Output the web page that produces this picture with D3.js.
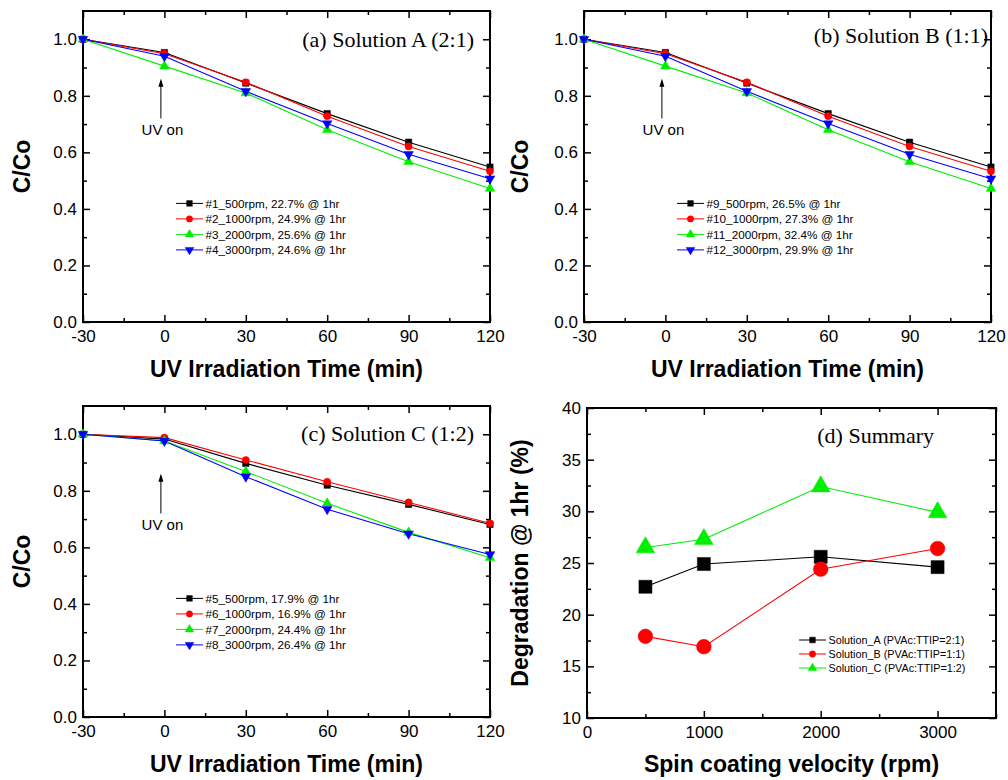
<!DOCTYPE html>
<html>
<head>
<meta charset="utf-8">
<script src="https://cdn.jsdelivr.net/npm/d3@7"></script>
<style>
  body { margin: 0; background: #fff; }
  svg { display: block; }
</style>
</head>
<body>
<svg id="chart" width="1008" height="780"></svg>
<script>
// ---------------- DATA ----------------
const timeMin = [-30, 0, 30, 60, 90, 120];
const xTicksTime = [-30, 0, 30, 60, 90, 120];
const yTicksCC = [0.0, 0.2, 0.4, 0.6, 0.8, 1.0];

const legendA = ["#1_500rpm, 22.7% @ 1hr", "#2_1000rpm, 24.9% @ 1hr", "#3_2000rpm, 25.6% @ 1hr", "#4_3000rpm, 24.6% @ 1hr"];
const valuesA = [
  [1.0, 0.953, 0.845, 0.737, 0.636, 0.548],
  [1.0, 0.949, 0.848, 0.728, 0.621, 0.533],
  [1.0, 0.905, 0.810, 0.680, 0.567, 0.472],
  [1.0, 0.940, 0.816, 0.702, 0.593, 0.507]
];

const legendB = ["#9_500rpm, 26.5% @ 1hr", "#10_1000rpm, 27.3% @ 1hr", "#11_2000rpm, 32.4% @ 1hr", "#12_3000rpm, 29.9% @ 1hr"];
const valuesB = [
  [1.0, 0.953, 0.845, 0.737, 0.636, 0.548],
  [1.0, 0.949, 0.848, 0.728, 0.621, 0.533],
  [1.0, 0.905, 0.810, 0.680, 0.567, 0.472],
  [1.0, 0.940, 0.816, 0.702, 0.593, 0.507]
];

const legendC = ["#5_500rpm, 17.9% @ 1hr", "#6_1000rpm, 16.9% @ 1hr", "#7_2000rpm, 24.4% @ 1hr", "#8_3000rpm, 26.4% @ 1hr"];
const valuesC = [
  [1.0, 0.983, 0.897, 0.820, 0.752, 0.681],
  [1.0, 0.988, 0.909, 0.832, 0.759, 0.685],
  [1.0, 0.976, 0.868, 0.756, 0.653, 0.563],
  [1.0, 0.976, 0.850, 0.735, 0.648, 0.575]
];

const spinRpm = [500, 1000, 2000, 3000];
const xTicksRpm = [0, 1000, 2000, 3000];
const yTicksDeg = [10, 15, 20, 25, 30, 35, 40];
const legendD = ["Solution_A (PVAc:TTIP=2:1)", "Solution_B (PVAc:TTIP=1:1)", "Solution_C (PVAc:TTIP=1:2)"];
const degA = [22.7, 24.9, 25.6, 24.6];
const degB = [17.9, 16.9, 24.4, 26.4];
const degC = [26.5, 27.3, 32.4, 29.9];

// ---------------- STYLE ----------------
const colors = ["#000000", "#ff0000", "#00ee00", "#0000ff"];
const shapes = ["square", "circle", "up", "down"];
const SANS = "'Liberation Sans', Arial, sans-serif";
const SERIF = "'Liberation Serif', 'Times New Roman', serif";

const svg = d3.select("#chart");

function symbolPath(shape, size) {
  if (shape === "square") return d3.symbol(d3.symbolSquare, size)();
  if (shape === "circle") return d3.symbol(d3.symbolCircle, size)();
  return d3.symbol(d3.symbolTriangle, size)();
}
function drawMarker(g, shape, size, color, cx, cy) {
  const rot = shape === "down" ? 180 : 0;
  g.append("path")
    .attr("d", symbolPath(shape, size))
    .attr("transform", `translate(${cx},${cy}) rotate(${rot})`)
    .attr("fill", color)
    .attr("stroke", color)
    .attr("stroke-width", 0.5);
}

const hyphenInt = d => String(Math.round(d));

function frame(cfg) {
  const g = svg.append("g");
  const x = d3.scaleLinear().domain(cfg.xDomain).range([cfg.left, cfg.right]);
  const y = d3.scaleLinear().domain(cfg.yDomain).range([cfg.bottom, cfg.top]);
  const maj = 7, min = 4;

  g.append("g").attr("transform", `translate(0,${cfg.bottom})`)
    .call(d3.axisBottom(x).tickValues(cfg.xMajor).tickSizeInner(-maj).tickSizeOuter(0).tickPadding(8).tickFormat(cfg.xFmt));
  g.append("g").attr("transform", `translate(0,${cfg.bottom})`)
    .call(d3.axisBottom(x).tickValues(cfg.xMinor).tickSizeInner(-min).tickSizeOuter(0).tickFormat(""));
  g.append("g").attr("transform", `translate(0,${cfg.top})`)
    .call(d3.axisTop(x).tickValues(cfg.xMajor).tickSizeInner(-maj).tickSizeOuter(0).tickFormat(""));
  g.append("g").attr("transform", `translate(0,${cfg.top})`)
    .call(d3.axisTop(x).tickValues(cfg.xMinor).tickSizeInner(-min).tickSizeOuter(0).tickFormat(""));
  g.append("g").attr("transform", `translate(${cfg.left},0)`)
    .call(d3.axisLeft(y).tickValues(cfg.yMajor).tickSizeInner(-maj).tickSizeOuter(0).tickPadding(6).tickFormat(cfg.yFmt));
  g.append("g").attr("transform", `translate(${cfg.left},0)`)
    .call(d3.axisLeft(y).tickValues(cfg.yMinor).tickSizeInner(-min).tickSizeOuter(0).tickFormat(""));
  g.append("g").attr("transform", `translate(${cfg.right},0)`)
    .call(d3.axisRight(y).tickValues(cfg.yMajor).tickSizeInner(-maj).tickSizeOuter(0).tickFormat(""));
  g.append("g").attr("transform", `translate(${cfg.right},0)`)
    .call(d3.axisRight(y).tickValues(cfg.yMinor).tickSizeInner(-min).tickSizeOuter(0).tickFormat(""));

  g.selectAll(".domain").remove();
  g.selectAll(".tick line").attr("stroke", "#000").attr("stroke-width", 1.5);
  g.selectAll(".tick text").attr("font-size", 17).attr("fill", "#000")
    .style("font-family", SANS);

  g.append("rect")
    .attr("x", cfg.left).attr("y", cfg.top)
    .attr("width", cfg.right - cfg.left).attr("height", cfg.bottom - cfg.top)
    .attr("fill", "none").attr("stroke", "#000").attr("stroke-width", 2);

  g.append("text")
    .attr("x", (cfg.left + cfg.right) / 2).attr("y", cfg.xTitleY)
    .attr("text-anchor", "middle").attr("font-size", 23).attr("font-weight", "bold")
    .style("font-family", SANS)
    .text(cfg.xTitle);
  g.append("text")
    .attr("transform", `translate(${cfg.yTitleX},${(cfg.top + cfg.bottom) / 2}) rotate(-90)`)
    .attr("text-anchor", "middle").attr("font-size", 23).attr("font-weight", "bold")
    .style("font-family", SANS)
    .text(cfg.yTitle);
  return { g, x, y };
}

function legend(g, lx, ly, dy, labels, markerSize, fontSize) {
  labels.forEach((lab, i) => {
    const yy = ly + i * dy;
    g.append("line").attr("x1", lx).attr("x2", lx + 27).attr("y1", yy).attr("y2", yy)
      .attr("stroke", colors[i]).attr("stroke-width", 1);
    drawMarker(g, shapes[i], markerSize, colors[i], lx + 13.5, yy);
    g.append("text").attr("x", lx + 29.5).attr("y", yy + fontSize * 0.36)
      .attr("font-size", fontSize).attr("fill", "#000").style("font-family", SANS).text(lab);
  });
}

function timePanel(cfg, values, labels, title) {
  const { g, x, y } = frame(Object.assign({
    xDomain: [-30, 120], yDomain: [0, 1.1],
    xMajor: xTicksTime, xMinor: [-15, 15, 45, 75, 105],
    yMajor: yTicksCC, yMinor: [0.1, 0.3, 0.5, 0.7, 0.9],
    xFmt: hyphenInt, yFmt: d3.format(".1f"),
    xTitle: "UV Irradiation Time (min)", yTitle: "C/Co"
  }, cfg));
  const line = d3.line().x((d, i) => x(timeMin[i])).y(d => y(d));
  values.forEach((vals, s) => {
    g.append("path").datum(vals).attr("d", line)
      .attr("fill", "none").attr("stroke", colors[s]).attr("stroke-width", 1.1);
  });
  values.forEach((vals, s) => {
    vals.forEach((v, i) => drawMarker(g, shapes[s], 40, colors[s], x(timeMin[i]), y(v)));
  });
  const ax = x(0) - 3.5;
  g.append("line").attr("x1", ax).attr("x2", ax)
    .attr("y1", y(0.86) + 2).attr("y2", y(0.72)).attr("stroke", "#000").attr("stroke-width", 1);
  g.append("path").attr("d", `M${ax},${y(0.86)} l-2.5,8 l5,0 z`).attr("fill", "#000");
  g.append("text").attr("x", ax + 1.5).attr("y", y(0.66)).attr("text-anchor", "middle")
    .attr("font-size", 15).style("font-family", SANS).text("UV on");
  g.append("text").attr("x", cfg.titleX).attr("y", cfg.titleY).attr("text-anchor", "end")
    .style("font-family", SERIF).attr("font-size", 22).text(title);
  legend(g, cfg.legX, y(0.4195), 15.5, labels, 32, 11.7);
}

timePanel({ left: 83, right: 490, top: 11, bottom: 322, xTitleY: 377, yTitleX: 30, titleX: 474, titleY: 47, legX: 176 },
  valuesA, legendA, "(a) Solution A (2:1)");
timePanel({ left: 584, right: 991, top: 11, bottom: 322, xTitleY: 377, yTitleX: 528, titleX: 988, titleY: 43, legX: 677 },
  valuesB, legendB, "(b) Solution B (1:1)");
timePanel({ left: 83, right: 490, top: 406, bottom: 717, xTitleY: 772, yTitleX: 30, titleX: 474, titleY: 441, legX: 176 },
  valuesC, legendC, "(c) Solution C (1:2)");

(function () {
  const { g, x, y } = frame({
    left: 587, right: 996, top: 408, bottom: 718,
    xDomain: [0, 3500], yDomain: [10, 40],
    xMajor: xTicksRpm, xMinor: [500, 1500, 2500, 3500],
    yMajor: yTicksDeg, yMinor: [12.5, 17.5, 22.5, 27.5, 32.5, 37.5],
    xFmt: hyphenInt, yFmt: hyphenInt,
    xTitle: "Spin coating velocity (rpm)", yTitle: "Degradation @ 1hr (%)",
    xTitleY: 772, yTitleX: 528
  });
  const sets = [degA, degB, degC];
  const line = d3.line().x((d, i) => x(spinRpm[i])).y(d => y(d));
  sets.forEach((vals, s) => {
    g.append("path").datum(vals).attr("d", line)
      .attr("fill", "none").attr("stroke", colors[s]).attr("stroke-width", 1.1);
  });
  const sz = [170, 170, 150];
  sets.forEach((vals, s) => {
    vals.forEach((v, i) => drawMarker(g, shapes[s], sz[s], colors[s], x(spinRpm[i]), y(v)));
  });
  g.append("text").attr("x", 934).attr("y", 443).attr("text-anchor", "end")
    .style("font-family", SERIF).attr("font-size", 22).text("(d) Summary");
  legend(g, 799, 640, 14, legendD, 32, 10.8);
})();
</script>
</body>
</html>
